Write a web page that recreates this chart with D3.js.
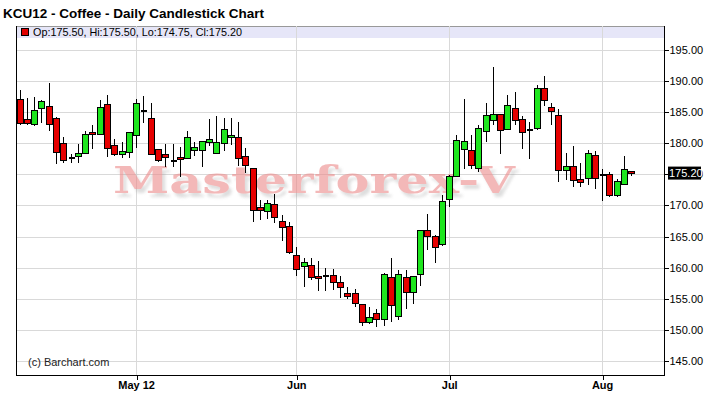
<!DOCTYPE html>
<html>
<head>
<meta charset="utf-8">
<script src="https://cdn.jsdelivr.net/npm/d3@7"></script>
<style>
  html, body { margin: 0; padding: 0; background: #fff; }
  svg { display: block; font-family: Arial, "Liberation Sans", sans-serif; }
</style>
</head>
<body>
<svg id="chart" width="717" height="402"></svg>
<script>
// ---------- data (trading-day index 0..84) ----------
const opens = [187.1,183.8,183.0,185.6,185.9,184.0,180.0,177.65,177.8,178.3,
  181.75,181.4,186.3,179.6,178.2,178.5,181.2,185.2,184.0,179.0,
  178.2,177.2,177.7,177.6,178.9,178.9,180.1,178.3,180.0,180.95,
  180.95,177.8,176.0,169.6,169.0,170.2,167.4,166.6,161.9,160.2,
  160.3,158.55,158.6,158.8,157.55,155.8,155.8,154.1,151.2,152.6,
  151.7,158.4,152.1,158.5,156.0,158.9,165.9,165.0,163.8,170.9,
  174.7,179.0,178.9,176.0,181.85,183.7,184.6,182.2,185.6,183.85,
  182.1,182.4,188.8,185.7,184.4,175.6,176.2,174.1,174.4,178.0,
  174.85,175.0,171.6,173.3,175.5];
const highs = [188.6,187.2,187.4,186.9,189.7,184.2,181.0,178.3,179.9,182.0,
  183.0,187.0,187.75,180.6,180.2,181.75,187.1,187.6,186.4,179.1,
  179.8,179.8,179.4,182.0,180.2,180.35,183.9,184.4,184.0,184.0,
  183.45,179.2,176.0,170.9,170.9,171.85,168.4,167.3,163.4,161.5,
  161.5,161.1,160.0,159.8,158.6,156.9,156.6,154.2,153.6,153.3,
  159.1,161.5,159.7,159.7,158.6,166.0,168.7,165.3,171.7,174.9,
  181.3,187.05,181.3,182.9,186.5,192.2,184.7,187.75,188.2,184.3,
  183.45,189.3,190.8,186.4,185.45,178.4,179.6,176.8,178.9,178.7,
  175.8,175.3,174.25,177.9,175.5];
const lows = [182.9,182.9,182.8,183.2,182.0,176.6,176.9,176.8,176.8,178.3,
  179.1,181.4,177.8,177.9,177.7,177.7,179.3,183.3,178.1,177.0,
  176.2,176.2,174.6,177.4,178.0,176.2,179.6,178.3,178.7,179.7,
  176.4,175.2,167.4,167.6,167.9,167.1,164.3,162.2,158.7,156.9,
  158.0,156.2,156.2,156.4,155.2,154.9,153.7,150.6,150.95,150.4,
  150.6,151.2,151.6,153.4,154.1,157.0,162.8,160.8,163.5,169.8,
  174.7,175.8,175.8,175.3,180.25,182.9,178.2,182.1,183.0,179.0,
  177.4,182.2,186.0,183.0,173.8,174.1,173.0,173.0,173.3,172.6,
  170.75,171.3,171.3,173.3,174.75];
const closes = [183.2,183.1,185.3,186.7,183.0,178.5,177.3,177.65,178.3,181.4,
  181.4,185.8,179.2,178.2,178.6,181.75,186.4,185.2,178.2,177.3,
  177.7,177.2,177.4,180.95,179.3,180.35,180.6,180.1,182.2,181.3,
  177.5,176.4,169.2,169.2,170.35,168.05,166.4,162.5,159.7,160.9,
  158.4,158.2,158.6,157.6,156.85,155.4,154.3,151.2,152.0,151.7,
  158.9,154.0,158.9,156.0,158.6,165.9,165.0,163.2,170.7,174.7,
  180.5,180.35,176.5,182.4,184.5,184.65,182.0,186.1,183.7,181.75,
  182.1,188.8,186.9,185.1,175.6,176.2,174.0,173.7,178.4,174.35,
  174.85,171.6,173.8,175.7,175.2];

const monthTickIdx = [16, 38, 59, 80];
const monthTickLabels = ["May 12", "Jun", "Jul", "Aug"];
const priceTicks = [145, 150, 155, 160, 165, 170, 175, 180, 185, 190, 195];
const lastPrice = 175.20;
const titleText = "KCU12 - Coffee - Daily Candlestick Chart";
const infoText = "Op:175.50, Hi:175.50, Lo:174.75, Cl:175.20";

// ---------- layout ----------
const L = 16, R = 664, T = 26, B = 375;
const svg = d3.select("#chart");
const x = d3.scaleLinear().domain([-0.5, 88.5]).range([L, R]);
const y = d3.scaleLinear().domain([145, 190]).range([361, 81]);

// title
svg.append("text").attr("x", 3).attr("y", 18)
  .attr("font-size", 13.5).attr("font-weight", "bold").attr("fill", "#000")
  .text(titleText);

// info bar
svg.append("rect").attr("x", L).attr("y", T).attr("width", R - L).attr("height", 12)
  .attr("fill", "#e6e6f8");
svg.append("line").attr("x1", L).attr("x2", R).attr("y1", T + 0.5).attr("y2", T + 0.5)
  .attr("stroke", "#999");

// grid
const grid = svg.append("g").attr("shape-rendering", "crispEdges");
grid.selectAll("line.h").data(priceTicks).join("line")
  .attr("x1", L).attr("x2", R)
  .attr("y1", d => Math.round(y(d)) + 0.5).attr("y2", d => Math.round(y(d)) + 0.5)
  .attr("stroke", "#d9d9d9");
grid.selectAll("line.v").data(monthTickIdx).join("line")
  .attr("x1", d => Math.round(x(d)) + 0.5).attr("x2", d => Math.round(x(d)) + 0.5)
  .attr("y1", T).attr("y2", B)
  .attr("stroke", "#d9d9d9");

// info text + marker
svg.append("rect").attr("x", 21.5).attr("y", 28.5).attr("width", 7).attr("height", 7)
  .attr("fill", "#e00000").attr("stroke", "#000");
svg.append("text").attr("x", 33).attr("y", 36).attr("font-size", 10.8).attr("fill", "#000")
  .text(infoText);

// watermark (single text with soft drop shadow)
const defs = svg.append("defs");
const f = defs.append("filter").attr("id", "wmShadow")
  .attr("x", "-5%").attr("y", "-30%").attr("width", "115%").attr("height", "170%");
f.append("feDropShadow").attr("dx", 3).attr("dy", 4).attr("stdDeviation", 1.8)
  .attr("flood-color", "#888").attr("flood-opacity", 0.45);
svg.append("text").attr("x", 314).attr("y", 193).attr("text-anchor", "middle")
  .attr("font-family", "'DejaVu Serif', serif").attr("font-weight", "bold").attr("font-size", 38)
  .attr("textLength", 402).attr("lengthAdjust", "spacingAndGlyphs")
  .attr("fill", "#ec8a8a").attr("opacity", 0.6).attr("filter", "url(#wmShadow)")
  .attr("pointer-events", "none")
  .text("Masterforex-V");

// copyright
svg.append("text").attr("x", 28).attr("y", 366).attr("font-size", 11).attr("fill", "#222")
  .text("(c) Barchart.com");

// candles
const data = d3.range(opens.length).map(i => ({i, o: opens[i], h: highs[i], l: lows[i], c: closes[i]}));
const cg = svg.append("g").attr("shape-rendering", "crispEdges");
const c = cg.selectAll("g").data(data).join("g");
c.append("line")
  .attr("x1", d => Math.round(x(d.i)) + 0.5).attr("x2", d => Math.round(x(d.i)) + 0.5)
  .attr("y1", d => y(d.h)).attr("y2", d => y(d.l))
  .attr("stroke", "#000");
c.filter(d => d.o !== d.c).append("rect")
  .attr("x", d => Math.round(x(d.i)) - 2.5)
  .attr("width", 6)
  .attr("y", d => Math.min(y(d.o), y(d.c)))
  .attr("height", d => Math.max(1, Math.abs(y(d.o) - y(d.c))))
  .attr("fill", d => d.c > d.o ? "#1ee61e" : "#e60000")
  .attr("stroke", "#000");
c.filter(d => d.o === d.c).append("line")
  .attr("x1", d => Math.round(x(d.i)) - 2.5).attr("x2", d => Math.round(x(d.i)) + 3.5)
  .attr("y1", d => y(d.o)).attr("y2", d => y(d.o))
  .attr("stroke", "#000").attr("stroke-width", 2);

// frame
const fr = svg.append("g").attr("shape-rendering", "crispEdges");
fr.append("line").attr("x1", L + 0.5).attr("x2", L + 0.5).attr("y1", T).attr("y2", B + 1).attr("stroke", "#000");
fr.append("line").attr("x1", L).attr("x2", R + 1).attr("y1", B + 0.5).attr("y2", B + 0.5).attr("stroke", "#000");
fr.append("line").attr("x1", R + 0.5).attr("x2", R + 0.5).attr("y1", T).attr("y2", B + 1).attr("stroke", "#000");

// y axis (right)
const yAxis = d3.axisRight(y).tickValues(priceTicks).tickFormat(d3.format(".2f")).tickSize(4).tickPadding(1);
const ya = svg.append("g").attr("transform", `translate(${R + 0.5},0)`).call(yAxis);
ya.select(".domain").remove();
ya.selectAll("text").attr("font-size", 11).attr("font-family", "Arial, 'Liberation Sans', sans-serif").attr("fill", "#000");
ya.selectAll("line").attr("stroke", "#000").attr("shape-rendering", "crispEdges");

// last price tag
const ly = y(lastPrice);
svg.append("rect").attr("x", 668).attr("y", ly - 6.5).attr("width", 33).attr("height", 13).attr("fill", "#000");
svg.append("text").attr("x", 669).attr("y", ly).attr("dy", "0.35em").attr("font-size", 11)
  .attr("fill", "#fff").text(d3.format(".2f")(lastPrice));

// x axis
const xAxis = d3.axisBottom(x).tickValues(monthTickIdx).tickFormat((d, i) => monthTickLabels[i]).tickSize(4).tickPadding(2);
const xa = svg.append("g").attr("transform", `translate(0,${B + 0.5})`).call(xAxis);
xa.select(".domain").remove();
xa.selectAll("line").attr("stroke", "#000").attr("shape-rendering", "crispEdges")
  .attr("transform", "translate(0.5,0)");
xa.selectAll("text").attr("font-size", 11).attr("font-weight", "bold")
  .attr("font-family", "Arial, 'Liberation Sans', sans-serif").attr("fill", "#000");
</script>
</body>
</html>
